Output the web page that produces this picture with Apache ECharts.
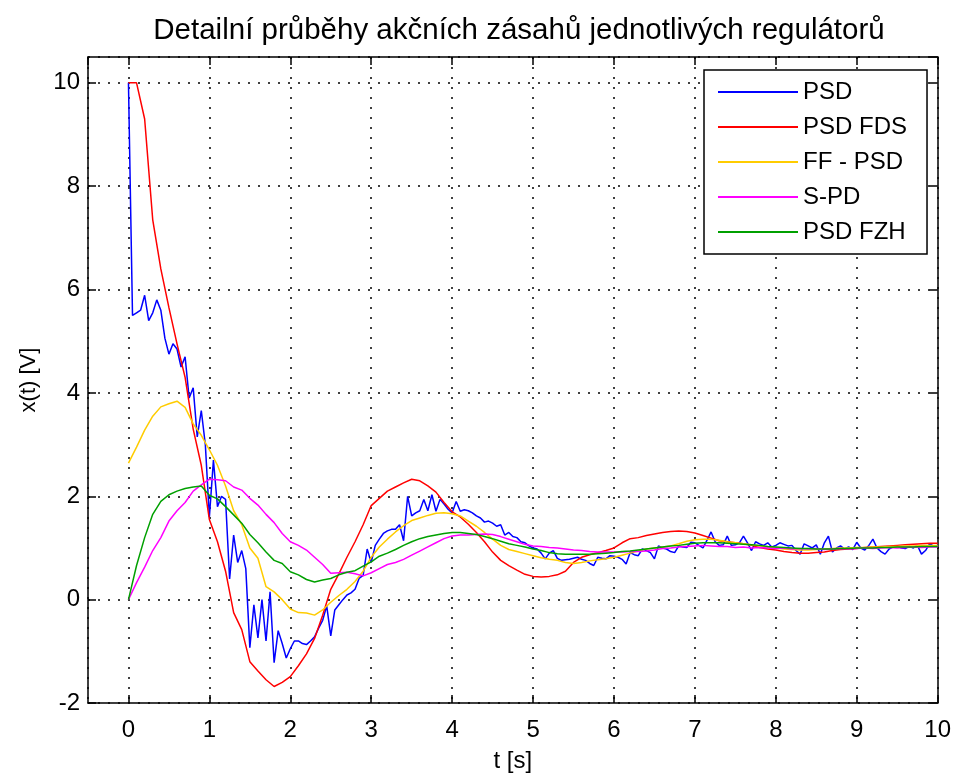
<!DOCTYPE html>
<html>
<head>
<meta charset="utf-8">
<script src="https://cdn.jsdelivr.net/npm/echarts@6/dist/echarts.min.js"></script>
<style>
html,body{margin:0;padding:0;background:#fff;}
#chart{width:954px;height:778px;}
</style>
</head>
<body>
<div id="chart"></div>
<script>
// ---- Data ----
const seriesNames = ['PSD', 'PSD FDS', 'FF - PSD', 'S-PD', 'PSD FZH'];
const xTickLabels = ['0','1','2','3','4','5','6','7','8','9','10'];
const yTickLabels = ['-2','0','2','4','6','8','10'];

// time grids (s): PSD sampled every 0.05 s, the others every 0.1 s
const timeFine = Array.from({length: 201}, (_, i) => +(i * 0.05).toFixed(2));
const timeCoarse = Array.from({length: 101}, (_, i) => +(i * 0.1).toFixed(1));

const psd = [
  10,5.5,5.55,5.6,5.89,5.4,5.55,5.8,5.6,5.06,
  4.75,4.95,4.85,4.5,4.7,3.9,4.1,3.15,3.66,3.0,
  1.6,2.7,1.8,2.0,1.94,0.4,1.25,0.72,0.95,0.6,
  -0.93,-0.1,-0.74,0.0,-0.8,0.15,-1.22,-0.6,-0.85,-1.13,
  -0.95,-0.8,-0.8,-0.85,-0.87,-0.8,-0.72,-0.55,-0.4,-0.12,
  -0.7,-0.2,-0.1,0.0,0.09,0.13,0.2,0.41,0.47,0.98,
  0.72,1.05,1.17,1.28,1.33,1.36,1.36,1.45,1.14,2.0,
  1.62,1.68,1.72,1.94,1.72,2.03,1.71,1.94,1.85,1.75,
  1.68,1.9,1.71,1.74,1.72,1.68,1.62,1.58,1.5,1.52,
  1.48,1.42,1.45,1.25,1.3,1.22,1.2,1.12,1.1,1.04,
  1.0,0.98,0.9,0.79,0.9,0.95,0.8,0.76,0.77,0.78,
  0.8,0.82,0.78,0.76,0.7,0.66,0.82,0.8,0.79,0.85,
  0.84,0.82,0.78,0.69,0.91,0.87,0.85,0.98,0.95,0.91,
  0.79,1.04,1.0,0.98,0.93,0.91,1.04,1.02,1.01,1.11,
  1.1,1.05,1.0,1.15,1.31,1.12,1.05,1.06,1.23,1.05,
  1.06,1.1,1.23,1.1,0.95,1.12,1.08,1.05,1.1,1.02,
  1.05,1.1,1.07,1.04,1.05,0.95,0.88,1.08,1.04,1.0,
  1.06,0.88,1.1,1.23,0.92,1.0,1.04,0.98,1.02,0.97,
  1.11,1.0,0.96,1.05,1.17,1.0,0.93,0.88,0.98,1.02,
  1.04,1.0,0.99,1.03,1.0,1.05,0.88,0.95,1.08,1.04,
  1.05
];

const psdFds = [
  10,10,9.3,7.35,6.4,5.65,4.95,4.3,3.3,2.6,
  1.55,1.12,0.55,-0.25,-0.58,-1.2,-1.38,-1.55,-1.68,-1.6,
  -1.49,-1.28,-1.05,-0.75,-0.3,0.2,0.5,0.82,1.12,1.45,
  1.82,1.96,2.1,2.18,2.26,2.33,2.3,2.2,2.08,1.88,
  1.7,1.6,1.46,1.3,1.12,0.92,0.76,0.66,0.57,0.49,
  0.45,0.44,0.45,0.48,0.55,0.72,0.82,0.87,0.91,0.95,
  1.0,1.1,1.18,1.2,1.24,1.27,1.3,1.32,1.33,1.32,
  1.29,1.24,1.19,1.14,1.12,1.1,1.08,1.05,1.01,0.98,
  0.96,0.93,0.91,0.9,0.9,0.91,0.92,0.95,0.97,0.98,
  0.99,1.01,1.02,1.03,1.04,1.05,1.06,1.07,1.08,1.09,
  1.09
];

const ffPsd = [
  2.64,2.95,3.28,3.55,3.73,3.79,3.84,3.72,3.4,3.18,
  2.9,2.6,2.2,1.72,1.45,1.0,0.8,0.25,0.15,0.0,
  -0.18,-0.25,-0.26,-0.3,-0.2,-0.05,0.08,0.2,0.35,0.55,
  0.82,1.02,1.17,1.31,1.43,1.53,1.58,1.63,1.67,1.68,
  1.66,1.62,1.52,1.42,1.3,1.17,1.05,0.97,0.93,0.89,
  0.85,0.81,0.78,0.76,0.72,0.7,0.72,0.75,0.77,0.79,
  0.82,0.86,0.9,0.94,0.98,1.0,1.02,1.04,1.08,1.13,
  1.16,1.17,1.17,1.15,1.12,1.1,1.08,1.06,1.04,1.02,
  1.0,0.98,0.97,0.96,0.96,0.97,0.98,0.99,1.0,1.0,
  1.01,1.01,1.02,1.02,1.03,1.03,1.04,1.04,1.05,1.05,
  1.05
];

const sPd = [
  0,0.33,0.63,0.95,1.2,1.52,1.72,1.88,2.1,2.22,
  2.33,2.32,2.3,2.18,2.12,1.96,1.83,1.65,1.49,1.28,
  1.12,1.05,0.96,0.82,0.68,0.51,0.52,0.53,0.5,0.46,
  0.52,0.6,0.68,0.72,0.78,0.86,0.94,1.02,1.1,1.18,
  1.23,1.25,1.25,1.26,1.27,1.26,1.22,1.17,1.12,1.07,
  1.04,1.03,1.01,1.0,0.98,0.96,0.95,0.93,0.92,0.92,
  0.92,0.92,0.93,0.93,0.94,0.96,0.99,1.0,1.02,1.03,
  1.04,1.05,1.04,1.03,1.03,1.01,1.02,1.0,1.01,1.0,
  0.99,1.0,0.98,0.99,0.98,0.99,0.97,0.98,0.99,0.98,
  0.99,1.0,0.99,1.0,1.01,1.0,1.01,1.02,1.01,1.02,
  1.02
];

const psdFzh = [
  0,0.66,1.2,1.65,1.9,2.03,2.1,2.15,2.18,2.2,
  2.02,1.95,1.8,1.64,1.48,1.26,1.1,0.92,0.76,0.7,
  0.54,0.48,0.39,0.34,0.38,0.41,0.48,0.53,0.56,0.65,
  0.73,0.84,0.9,0.97,1.05,1.12,1.18,1.22,1.25,1.28,
  1.3,1.3,1.28,1.26,1.22,1.18,1.13,1.08,1.05,1.02,
  0.98,0.95,0.91,0.89,0.88,0.88,0.88,0.88,0.89,0.9,
  0.91,0.93,0.94,0.96,0.98,1.0,1.02,1.04,1.05,1.07,
  1.09,1.1,1.1,1.1,1.09,1.08,1.07,1.06,1.05,1.03,
  1.02,1.01,1.0,0.99,0.99,0.98,0.98,0.98,0.99,0.99,
  1.0,1.0,1.0,1.01,1.01,1.02,1.02,1.02,1.03,1.03,
  1.03
];

// ---- Chart ----
const FONT = '"Liberation Sans", Arial, Helvetica, sans-serif';
const colors = ['#0000ff', '#ff0000', '#ffcc00', '#ff00ff', '#00a000'];
const pair = (t, v) => t.map((x, i) => [x, v[i]]);
const seriesData = [
  pair(timeFine, psd),
  pair(timeCoarse, psdFds),
  pair(timeCoarse, ffPsd),
  pair(timeCoarse, sPd),
  pair(timeCoarse, psdFzh)
];

const xLabelFmt = v => {
  const s = String(Math.round(v));
  return (Math.abs(v - Math.round(v)) < 1e-6 && xTickLabels.includes(s)) ? s : '';
};
const yLabelFmt = v => {
  const s = String(Math.round(v));
  return (Math.abs(v - Math.round(v)) < 1e-6 && yTickLabels.includes(s)) ? s : '';
};

const axisLineStyle = {color: '#000', width: 1.5};
const gridLine = {show: true, lineStyle: {color: '#000', width: 1.5, type: [2, 8]}};
const labelStyle = {color: '#000', fontSize: 24, fontFamily: FONT};

const chart = echarts.init(document.getElementById('chart'), null, {renderer: 'canvas'});
chart.setOption({
  animation: false,
  backgroundColor: '#ffffff',
  title: {
    text: 'Detailní průběhy akčních zásahů jednotlivých regulátorů',
    left: 514, top: 11, textAlign: 'center',
    textStyle: {fontSize: 29.5, fontWeight: 'normal', color: '#000', fontFamily: FONT}
  },
  grid: {left: 88, right: 15, top: 57, bottom: 67, containLabel: false},
  legend: {
    orient: 'vertical', left: 704, top: 70,
    padding: [10, 20, 10, 14], itemGap: 11,
    itemWidth: 80, itemHeight: 2, icon: 'rect',
    backgroundColor: '#fff', borderColor: '#000', borderWidth: 1.5, borderRadius: 0,
    textStyle: {fontSize: 24, color: '#000', fontFamily: FONT, lineHeight: 24},
    data: seriesNames
  },
  xAxis: [
    {
      type: 'value', min: -0.5, max: 10, splitNumber: 10, position: 'bottom',
      axisLine: {show: true, onZero: false, lineStyle: axisLineStyle},
      axisTick: {show: true, inside: true, length: 8, lineStyle: axisLineStyle},
      axisLabel: Object.assign({formatter: xLabelFmt, margin: 15, showMinLabel: false}, labelStyle),
      splitLine: gridLine,
      name: 't [s]', nameLocation: 'middle', nameGap: 46,
      nameTextStyle: labelStyle
    },
    {
      type: 'value', min: -0.5, max: 10, splitNumber: 10, position: 'top',
      axisLine: {show: true, onZero: false, lineStyle: axisLineStyle},
      axisTick: {show: true, inside: true, length: 8, lineStyle: axisLineStyle},
      axisLabel: {show: false}, splitLine: {show: false}
    }
  ],
  yAxis: [
    {
      type: 'value', min: -2, max: 10.5, interval: 2, position: 'left',
      axisLine: {show: true, onZero: false, lineStyle: axisLineStyle},
      axisTick: {show: true, inside: true, length: 8, lineStyle: axisLineStyle},
      axisLabel: Object.assign({formatter: yLabelFmt, margin: 8, showMaxLabel: false}, labelStyle),
      splitLine: gridLine,
      name: 'x(t) [V]', nameLocation: 'middle', nameGap: 48,
      nameTextStyle: Object.assign({}, labelStyle, {fontSize: 22})
    },
    {
      type: 'value', min: -2, max: 10.5, interval: 2, position: 'right',
      axisLine: {show: true, onZero: false, lineStyle: axisLineStyle},
      axisTick: {show: true, inside: true, length: 8, lineStyle: axisLineStyle},
      axisLabel: {show: false}, splitLine: {show: false}
    }
  ],
  series: seriesNames.map((name, i) => ({
    name: name, type: 'line', data: seriesData[i],
    xAxisIndex: 0, yAxisIndex: 0,
    showSymbol: false, symbol: 'none', smooth: false,
    color: colors[i],
    lineStyle: {color: colors[i], width: 1.5},
    emphasis: {disabled: true}
  }))
});
</script>
</body>
</html>
